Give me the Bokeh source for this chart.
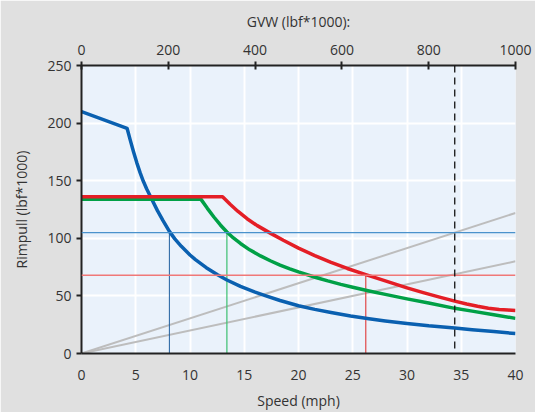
from bokeh.plotting import figure
from bokeh.models import Range1d, LinearAxis, FixedTicker, Span
from bokeh.embed import file_html
from bokeh.resources import INLINE

# ---- data ----
x_ticks = [0, 5, 10, 15, 20, 25, 30, 35, 40]
y_ticks = [0, 50, 100, 150, 200, 250]
gvw_ticks = [0, 200, 400, 600, 800, 1000]

blue_speed = [0, 4.2, 4.5, 4.8, 5.1, 5.4, 5.7, 6.0, 6.42, 7.0, 7.5, 8.1, 8.6,
              9.2, 10, 10.5, 11.5, 12.5, 13.4, 14.65, 16, 17, 18.3, 20, 21.5,
              23, 24.8, 26.5, 28, 30, 32, 34.4, 36, 38, 40]
blue_pull = [210, 195.5, 185, 175, 165.5, 157, 149.5, 143, 135, 124, 115.5, 106, 99.5,
             93, 85.5, 81.5, 74.5, 68.5, 63.8, 58.3, 53.3, 50, 46, 41.5, 38.3,
             35.6, 32.6, 30.2, 28.3, 26.1, 24, 22.1, 20.7, 19, 17.3]

red_speed = [0, 13.0, 13.7, 14.4, 15.26, 16.2, 17.4, 18.6, 20.0, 21.5, 23, 24.5,
             26.2, 27.5, 29, 30, 31.5, 33, 34.4, 35.5, 36.5, 37.5, 38.5, 39.3, 40]
red_pull = [136, 136, 129.5, 123.5, 117, 111, 104.5, 98.3, 91.5, 85, 79.2, 73.8,
            68.5, 64.5, 60, 57, 52.8, 48.9, 45.5, 43, 41, 39.3, 38.2, 37.7, 37.4]

green_speed = [0, 11.0, 11.6, 12.2, 12.8, 13.4, 14.0, 14.65, 15.5, 16.5, 17.4,
               18.3, 19.2, 20, 21.6, 22.7, 23.9, 25, 26.5, 28, 30, 32, 34.4,
               36, 38, 40]
green_pull = [134, 134, 126, 118.5, 111.6, 105.5, 100.3, 95.5, 90, 84.7, 80.5,
              76.8, 73.5, 70.8, 66, 63, 60, 57.5, 54.3, 51.3, 47.4, 43.9, 39.2,
              36.8, 33.7, 30.5]

grade_speed = [0, 40]
grade_hi = [0, 122]
grade_lo = [0, 80]

blue_level = 105
red_level = 68
blue_cross = 8.1
green_cross = 13.4
red_cross = 26.2
gvw_mark = 860

FONT = "Open Sans"
TXT = "#333333"

p = figure(width=535, height=412, x_range=Range1d(0, 40), y_range=Range1d(0, 250),
           output_backend="svg", toolbar_location=None,
           min_border_left=81, min_border_right=20, min_border_top=65,
           min_border_bottom=57,
           background_fill_color="#eaf2fb", border_fill_color="#e0e0e0",
           outline_line_color=None)
p.extra_x_ranges = {"gvw": Range1d(0, 1000)}

# grid
p.xgrid.ticker = FixedTicker(ticks=x_ticks)
p.ygrid.ticker = FixedTicker(ticks=y_ticks)
p.grid.grid_line_color = "white"
p.grid.grid_line_width = 2

# bottom axis
xa = p.xaxis[0]
xa.ticker = FixedTicker(ticks=x_ticks)
xa.axis_label = "Speed (mph)"
xa.major_tick_line_color = None
xa.minor_tick_line_color = None
xa.major_tick_out = 6
xa.major_tick_in = 0
xa.major_label_standoff = 10
xa.axis_label_standoff = 8

# left axis
ya = p.yaxis[0]
ya.ticker = FixedTicker(ticks=y_ticks)
ya.axis_label = "Rimpull (lbf*1000)"
ya.minor_tick_line_color = None
ya.major_tick_out = 5
ya.major_tick_in = 0
ya.major_label_standoff = 5
ya.axis_label_standoff = 13

# top axis
ta = LinearAxis(x_range_name="gvw", ticker=FixedTicker(ticks=gvw_ticks),
                axis_label="GVW (lbf*1000):")
ta.minor_tick_line_color = None
ta.major_tick_out = 4
ta.major_tick_in = 4
ta.major_label_standoff = 7
ta.axis_label_standoff = 11
p.add_layout(ta, "above")

for ax in [xa, ya, ta]:
    ax.axis_line_color = "#222222"
    ax.axis_line_width = 2
    ax.major_tick_line_width = 2
    if ax is not xa:
        ax.major_tick_line_color = "#222222"
    ax.major_label_text_font = FONT
    ax.major_label_text_font_size = "14px"
    ax.major_label_text_color = TXT
    ax.axis_label_text_font = FONT
    ax.axis_label_text_font_size = "14px"
    ax.axis_label_text_font_style = "normal"
    ax.axis_label_text_color = TXT

# grade lines
p.line(grade_speed, grade_hi, line_color="#bdbdbd", line_width=2)
p.line(grade_speed, grade_lo, line_color="#bdbdbd", line_width=2)

# reference levels
p.add_layout(Span(location=blue_level, dimension="width", line_color="#4a92cc", line_width=1.3))
p.add_layout(Span(location=red_level, dimension="width", line_color="#f07878", line_width=1.5))
p.segment(x0=[blue_cross], y0=[0], x1=[blue_cross], y1=[blue_level], line_color="#1f5f9f", line_width=1)
p.segment(x0=[green_cross], y0=[0], x1=[green_cross], y1=[blue_level], line_color="#3cc070", line_width=1.2)
p.segment(x0=[red_cross], y0=[0], x1=[red_cross], y1=[red_level], line_color="#e04848", line_width=1.2)

# main curves
p.line(blue_speed, blue_pull, line_color="#0a60b0", line_width=3.5, line_join="round")
p.line(green_speed, green_pull, line_color="#00a046", line_width=3.5, line_join="round")
p.line(red_speed, red_pull, line_color="#e41e26", line_width=3.5, line_join="round")

# GVW marker
p.add_layout(Span(location=gvw_mark, dimension="height", x_range_name="gvw",
                  line_color="#111111", line_width=1.3, line_dash="7 5"))

open("out.html", "w").write(file_html(p, INLINE))
